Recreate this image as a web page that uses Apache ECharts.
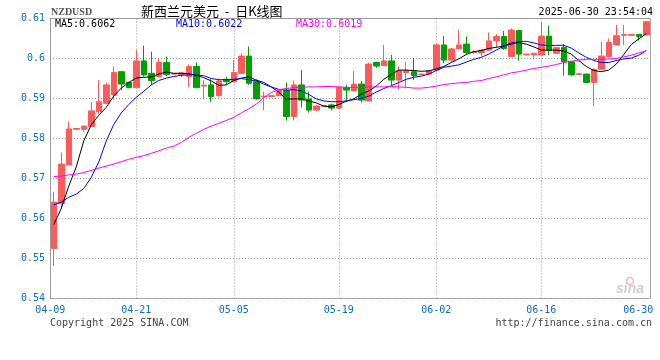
<!DOCTYPE html>
<html><head><meta charset="utf-8">
<script src="https://cdn.jsdelivr.net/npm/echarts@6/dist/echarts.min.js"></script>
<style>html,body{margin:0;padding:0;background:#fff}#c{width:660px;height:360px}</style>
</head><body><div id="c"></div>
<script>
const dates = ['04-09','04-10','04-11','04-12','04-13','04-14','04-15','04-16','04-17','04-18','04-19',
'04-21','04-22','04-23','04-24','04-25','04-26','04-28','04-29','04-30','05-01','05-02','05-03','05-04',
'05-05','05-06','05-07','05-08','05-09','05-10','05-11','05-12','05-13','05-14','05-15','05-16','05-17','05-18',
'05-19','05-20','05-21','05-22','05-23','05-24','05-26','05-27','05-28','05-29','05-30','05-31','06-01',
'06-02','06-03','06-04','06-05','06-06','06-07','06-08','06-09','06-10','06-11','06-12','06-13','06-14','06-15',
'06-16','06-17','06-18','06-19','06-20','06-21','06-22','06-23','06-24','06-25','06-26','06-27','06-28','06-29',
'06-30'];
const openP = [0.5525,0.5638,0.5734,0.5823,0.5823,0.5830,0.5867,0.5888,0.5909,0.5967,
0.5940,0.5927,0.5994,0.5963,0.5955,0.5990,0.5961,0.5960,0.5955,0.5980,
0.5931,0.5934,0.5907,0.5948,0.5942,0.5963,0.6006,0.5942,0.5904,0.5905,
0.5907,0.5920,0.5855,0.5934,0.5899,0.5871,0.5880,0.5884,0.5876,0.5927,
0.5919,0.5936,0.5894,0.5990,0.5982,0.5994,0.5946,0.5965,0.5967,0.5960,
0.5961,0.5971,0.6034,0.5996,0.6024,0.6036,0.6015,0.6015,0.6021,0.6044,
0.6055,0.6005,0.6070,0.6009,0.6009,0.6009,0.6056,0.6013,0.6028,0.5992,
0.5960,0.5961,0.5940,0.5973,0.6005,0.6034,0.6058,0.6058,0.6060,0.6059];
const closeP = [0.5641,0.5736,0.5824,0.5825,0.5831,0.5869,0.5892,0.5934,0.5965,0.5936,
0.5927,0.5994,0.5959,0.5945,0.5990,0.5960,0.5962,0.5964,0.5980,0.5927,
0.5933,0.5905,0.5944,0.5942,0.5965,0.6006,0.5938,0.5899,0.5906,0.5907,
0.5921,0.5855,0.5934,0.5896,0.5871,0.5881,0.5882,0.5876,0.5928,0.5921,
0.5936,0.5896,0.5986,0.5981,0.5994,0.5946,0.5970,0.5970,0.5957,0.5961,
0.5970,0.6034,0.5996,0.6024,0.6034,0.6015,0.6017,0.6021,0.6044,0.6055,
0.6025,0.6071,0.6011,0.6011,0.6013,0.6056,0.6020,0.6027,0.5992,0.5959,
0.5962,0.5940,0.5973,0.6006,0.6040,0.6057,0.6060,0.6060,0.6055,0.6092];
const lowP = [0.5482,0.5624,0.5733,0.5822,0.5816,0.5829,0.5861,0.5886,0.5896,0.5921,
0.5926,0.5926,0.5955,0.5934,0.5953,0.5956,0.5960,0.5953,0.5928,0.5926,
0.5898,0.5892,0.5905,0.5934,0.5940,0.5962,0.5934,0.5897,0.5871,0.5904,
0.5906,0.5845,0.5845,0.5878,0.5865,0.5869,0.5879,0.5870,0.5874,0.5892,
0.5918,0.5890,0.5893,0.5977,0.5981,0.5934,0.5923,0.5925,0.5946,0.5959,
0.5960,0.5967,0.5988,0.5992,0.6023,0.6009,0.6012,0.6006,0.6020,0.6027,
0.6022,0.6004,0.5995,0.6008,0.6002,0.6008,0.6009,0.6011,0.5957,0.5957,
0.5959,0.5938,0.5881,0.5972,0.6004,0.6033,0.6034,0.6057,0.6045,0.6058];
const highP = [0.5667,0.5765,0.5842,0.5826,0.5832,0.5891,0.5946,0.5940,0.5980,0.5968,
0.5942,0.6021,0.6032,0.6017,0.6000,0.6005,0.5963,0.5967,0.5985,0.5990,
0.5946,0.5948,0.5950,0.5954,0.5996,0.6013,0.6030,0.5948,0.5917,0.5908,
0.5922,0.5940,0.5945,0.5971,0.5917,0.5883,0.5883,0.5887,0.5930,0.5934,
0.5969,0.5944,0.5990,0.5991,0.6034,0.6009,0.5980,0.5992,0.6002,0.5962,
0.5971,0.6038,0.6056,0.6026,0.6072,0.6055,0.6020,0.6023,0.6065,0.6061,
0.6069,0.6075,0.6072,0.6012,0.6014,0.6092,0.6082,0.6030,0.6036,0.5993,
0.5963,0.5962,0.5975,0.6042,0.6050,0.6084,0.6084,0.6061,0.6061,0.6093];
const ma5 = [0.5585,0.5625,0.5681,0.5729,0.5794,0.5834,0.5858,0.5878,0.5906,0.5926,
0.5940,0.5951,0.5953,0.5954,0.5961,0.5966,0.5963,0.5963,0.5962,0.5958,
0.5952,0.5944,0.5933,0.5934,0.5945,0.5951,0.5954,0.5946,0.5940,0.5929,
0.5916,0.5898,0.5899,0.5899,0.5894,0.5889,0.5881,0.5879,0.5885,0.5893,
0.5899,0.5911,0.5919,0.5931,0.5948,0.5960,0.5971,0.5971,0.5970,0.5968,
0.5969,0.5974,0.5980,0.5990,0.5999,0.6010,0.6017,0.6020,0.6025,0.6028,
0.6031,0.6036,0.6040,0.6036,0.6029,0.6021,0.6021,0.6021,0.6019,0.6011,
0.5995,0.5980,0.5970,0.5967,0.5971,0.5986,0.6010,0.6035,0.6049,0.6062];
const ma10 = [0.5634,0.5641,0.5653,0.5661,0.5675,0.5703,0.5741,0.5794,0.5835,0.5864,
0.5885,0.5903,0.5918,0.5934,0.5945,0.5951,0.5955,0.5958,0.5959,0.5959,
0.5957,0.5950,0.5947,0.5947,0.5948,0.5950,0.5947,0.5944,0.5936,0.5929,
0.5923,0.5921,0.5922,0.5919,0.5910,0.5899,0.5894,0.5892,0.5892,0.5894,
0.5897,0.5900,0.5906,0.5916,0.5925,0.5932,0.5940,0.5948,0.5953,0.5956,
0.5961,0.5970,0.5978,0.5981,0.5984,0.5991,0.5998,0.6003,0.6011,0.6021,
0.6031,0.6039,0.6042,0.6043,0.6039,0.6034,0.6032,0.6033,0.6033,0.6026,
0.6014,0.6003,0.5995,0.5990,0.5990,0.5995,0.5999,0.6001,0.6008,0.6020];
const ma30 = [0.5705,0.5706,0.5709,0.5711,0.5715,0.5720,0.5726,0.5731,0.5736,0.5742,
0.5748,0.5753,0.5757,0.5763,0.5769,0.5776,0.5781,0.5790,0.5803,0.5813,
0.5823,0.5831,0.5838,0.5845,0.5853,0.5864,0.5874,0.5886,0.5902,0.5915,
0.5922,0.5925,0.5927,0.5928,0.5929,0.5929,0.5930,0.5930,0.5929,0.5928,
0.5928,0.5928,0.5929,0.5929,0.5929,0.5930,0.5929,0.5928,0.5926,0.5926,
0.5928,0.5931,0.5935,0.5937,0.5939,0.5940,0.5943,0.5945,0.5950,0.5954,
0.5959,0.5964,0.5967,0.5971,0.5975,0.5978,0.5981,0.5985,0.5990,0.5993,
0.5996,0.5998,0.5998,0.5998,0.5999,0.6000,0.6004,0.6008,0.6014,0.6019];
const tickLabels = ['04-09','04-21','05-05','05-19','06-02','06-16','06-30'];
const maNames = ['MA5','MA10','MA30'];
const maLast = ['0.6062','0.6022','0.6019'];
const titleText = '新西兰元美元  -  日K线图';
const symbolText = 'NZDUSD';
const timeText = '2025-06-30 23:54:04';

const RED = '#ff5a5a', GREEN = '#00a000', BLUE_LBL = '#0a6ec8';
const MONO = 'DejaVu Sans Mono';
const maColors = ['#000000', '#0000ff', '#ff00ff'];
const kData = openP.map((o, i) => [o, closeP[i], lowP[i], highP[i]]);
const innerTicks = tickLabels.slice(1, -1);

const chart = echarts.init(document.getElementById('c'), null, {renderer: 'canvas'});
const graphics = [
  {type:'text', left:51, top:7, style:{text:symbolText, font:'bold 10px "Liberation Serif"', fill:'#555'}},
  {type:'text', left:141, top:5, style:{text:titleText, font:'13px "Noto Sans CJK SC"', fill:'#000'}},
  {type:'text', right:7, top:7, style:{text:timeText, font:'10px "DejaVu Sans Mono"', fill:'#000'}},
  {type:'text', left:50, top:318, style:{text:'Copyright 2025 SINA.COM', font:'10px "DejaVu Sans Mono"', fill:'#444'}},
  {type:'text', right:8, top:318, style:{text:'http://finance.sina.com.cn', font:'10px "DejaVu Sans Mono"', fill:'#444'}},
  {type:'text', left:616, top:282, style:{text:'sina', font:'italic bold 14px "Liberation Sans"', fill:'#cfcfcf'}},
  {type:'circle', shape:{cx:630, cy:281, r:3.5}, style:{fill:'none', stroke:'#f2b8b8', lineWidth:1.5}}
];
const legendX = [55, 176, 296];
maNames.forEach((n, i) => graphics.push({type:'text', left:legendX[i], top:19,
  style:{text:n + ':' + maLast[i], font:'10px "DejaVu Sans Mono"', fill:maColors[i]}}));

chart.setOption({
  animation:false,
  grid:{left:50, right:10, top:18.5, height:280},
  xAxis:[{
    type:'category', data:dates, boundaryGap:true,
    axisLine:{lineStyle:{color:'#999', type:[1,1]}},
    axisTick:{show:false},
    axisLabel:{
      interval:(i, v) => tickLabels.includes(v),
      margin:7, color:BLUE_LBL, fontFamily:MONO, fontSize:10,
      formatter:(v) => v === '06-30' ? '{r|' + v + '}' : (v === '04-09' ? '{l|' + v + '}' : v),
      rich:{r:{padding:[0,16,0,0], color:BLUE_LBL, fontFamily:MONO, fontSize:10},
            l:{padding:[0,7,0,0], color:BLUE_LBL, fontFamily:MONO, fontSize:10}}
    },
    splitLine:{show:true, alignWithLabel:true, interval:(i, v) => innerTicks.includes(v),
      lineStyle:{color:'#999', type:[1,2], width:1}}
  },{
    type:'category', data:dates, position:'top', boundaryGap:true,
    axisLine:{lineStyle:{color:'#999'}}, axisTick:{show:false}, axisLabel:{show:false}, splitLine:{show:false}
  }],
  yAxis:[{
    type:'value', min:0.54, max:0.61, interval:0.01, position:'left',
    axisLine:{show:true, lineStyle:{color:'#999'}}, axisTick:{show:false},
    axisLabel:{margin:5, color:BLUE_LBL, fontFamily:MONO, fontSize:10},
    splitLine:{show:true, lineStyle:{color:'#999', type:[1,2], width:1}}
  },{
    type:'value', min:0.54, max:0.61, interval:0.01, position:'right',
    axisLine:{show:true, lineStyle:{color:'#999', type:[1,1]}}, axisTick:{show:false},
    axisLabel:{show:false}, splitLine:{show:false}
  }],
  series:[
    {type:'candlestick', data:kData, barWidth:6,
      itemStyle:{color:RED, color0:GREEN, borderColor:RED, borderColor0:GREEN, borderWidth:1}},
    {type:'line', name:'MA5', data:ma5, showSymbol:false, lineStyle:{color:maColors[0], width:1}, z:3},
    {type:'line', name:'MA10', data:ma10, showSymbol:false, lineStyle:{color:maColors[1], width:1}, z:3},
    {type:'line', name:'MA30', data:ma30, showSymbol:false, lineStyle:{color:maColors[2], width:1}, z:3}
  ],
  graphic:graphics
});
</script></body></html>
